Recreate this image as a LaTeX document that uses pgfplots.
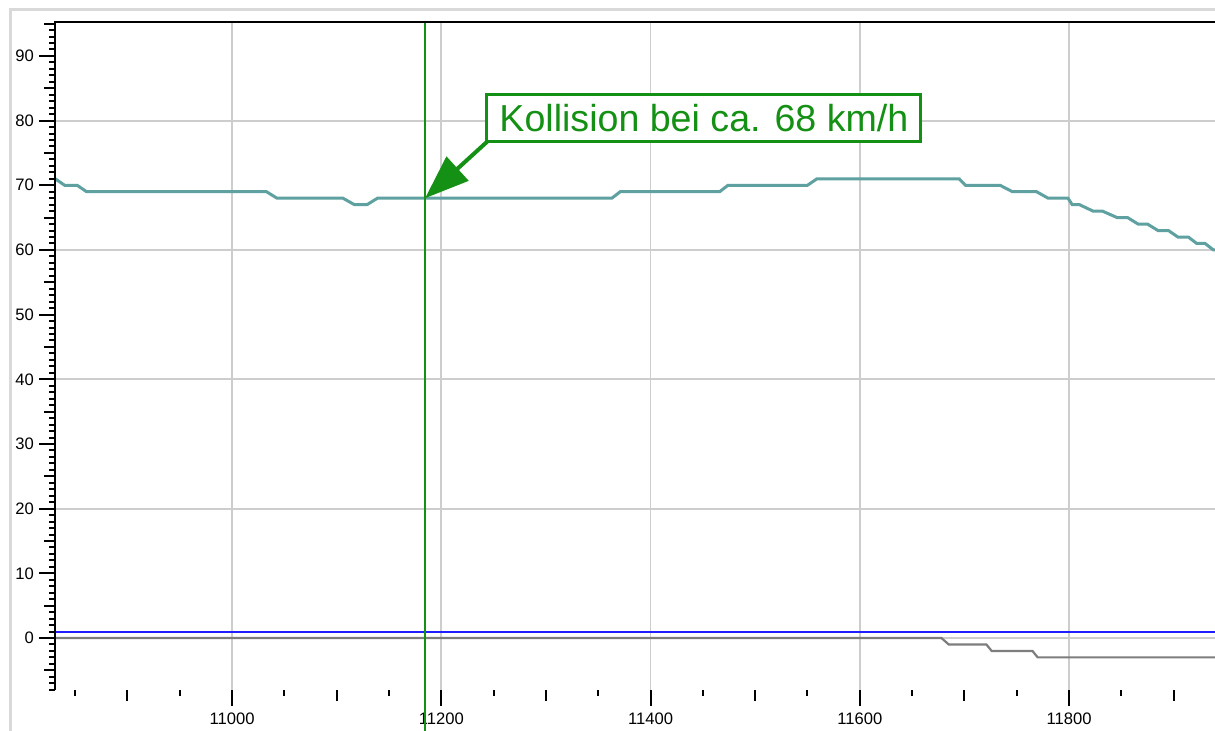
\documentclass[border=0pt]{standalone}
\usepackage{pgfplots}
\pgfplotsset{compat=1.18}
\usepackage{fontspec}
\setmainfont{Liberation Sans}
\usetikzlibrary{arrows.meta}
\definecolor{teal1}{RGB}{95,160,160}
\definecolor{grid1}{RGB}{205,205,205}
\definecolor{green1}{RGB}{20,145,20}
\definecolor{blue1}{RGB}{30,30,255}
\definecolor{gray1}{RGB}{125,125,125}
\begin{document}
\begin{tikzpicture}
\path[use as bounding box] (0,0) rectangle (607.5pt,365.5pt);
\fill[white] (0,0) rectangle (607.5pt,365.5pt);
\draw[black!15, line width=1.5pt] (5pt,0) -- (5pt,360.5pt) -- (607.5pt,360.5pt);
\begin{axis}[
  at={(27.5pt,20.5pt)}, anchor=south west,
  scale only axis, width=580pt, height=334pt,
  xmin=10830.8, xmax=11939.5, ymin=-8.04, ymax=95.25,
  axis line style={draw=none},
  clip=false,
  scaled x ticks=false, scaled y ticks=false,
  tick align=outside,
  xtick pos=bottom, ytick pos=left,
  tick style={black, line width=1pt},
  major tick length=8pt, minor tick length=3pt,
  xtick={11000,11200,11400,11600,11800},
  minor xtick={10850,10950,11050,11150,11250,11350,11450,11550,11650,11750,11850},
  extra x ticks={10900,11100,11300,11500,11700,11900},
  extra x tick labels={},
  extra x tick style={major tick length=5.5pt, grid=none},
  ytick={0,10,...,90},
  minor ytick={-8,-7,...,95},
  extra y ticks={-5,5,15,25,35,45,55,65,75,85,95},
  extra y tick labels={},
  extra y tick style={major tick length=5.5pt, grid=none},
  xmajorgrids, ymajorgrids=false,
  major grid style={grid1, line width=0.9pt},
  /pgf/number format/assume math mode=true,
  /pgf/number format/1000 sep={},
  ticklabel style={font=\fontsize{8.3}{10}\selectfont},
  yticklabel style={xshift=1pt},
]
\foreach \yy in {0,20,40,60,80} {
  \edef\tmp{\noexpand\draw[grid1, line width=0.9pt] (axis cs:10830.8,\yy) -- (axis cs:11939.5,\yy);}
  \tmp
}
\addplot[gray1, line width=1.1pt] coordinates {
(10831,0) (11678,0) (11685,-1) (11721,-1) (11726,-2) (11765,-2) (11770,-3) (11939.5,-3)
};
\addplot[teal1, line width=1.5pt] coordinates {
(10831,71) (10840,70) (10852,70) (10861,69) (11033,69) (11043,68) (11106,68) (11117,67)
(11129,67) (11139,68) (11363,68) (11371,69) (11466,69) (11474,70) (11550,70) (11559,71)
(11695,71) (11701,70) (11734,70) (11746,69) (11769,69) (11780,68) (11799,68) (11803,67)
(11810,67) (11823,66) (11832,66) (11846,65) (11856,65) (11866,64) (11875,64) (11885,63)
(11895,63) (11904,62) (11914,62) (11922,61) (11930,61) (11938,60) (11939.5,60)
};
\addplot[blue1, line width=1.3pt] coordinates {(10831,0.9) (11939.5,0.9)};
\addplot[green1, line width=1.4pt] coordinates {(11184.5,-14.4) (11184.5,95.25)};
\draw[black, line width=1.2pt] (axis cs:10830.8,-8.04) -- (axis cs:10830.8,95.25) -- (axis cs:11939.5,95.25);
\node[draw=green1, line width=1.5pt, text=green1, fill=white,
      font=\fontsize{18.8}{22}\selectfont, minimum width=217pt, minimum height=23.5pt,
      inner sep=0pt] (box) at (axis cs:11451,80.33) {Kollision bei ca. 68 km/h};
\draw[green1, line width=2pt, -{Triangle[length=22pt,width=16pt]}] ([shift={(1pt,1pt)}]box.south west) -- (axis cs:11184.5,68);
\end{axis}
\end{tikzpicture}
\end{document}
